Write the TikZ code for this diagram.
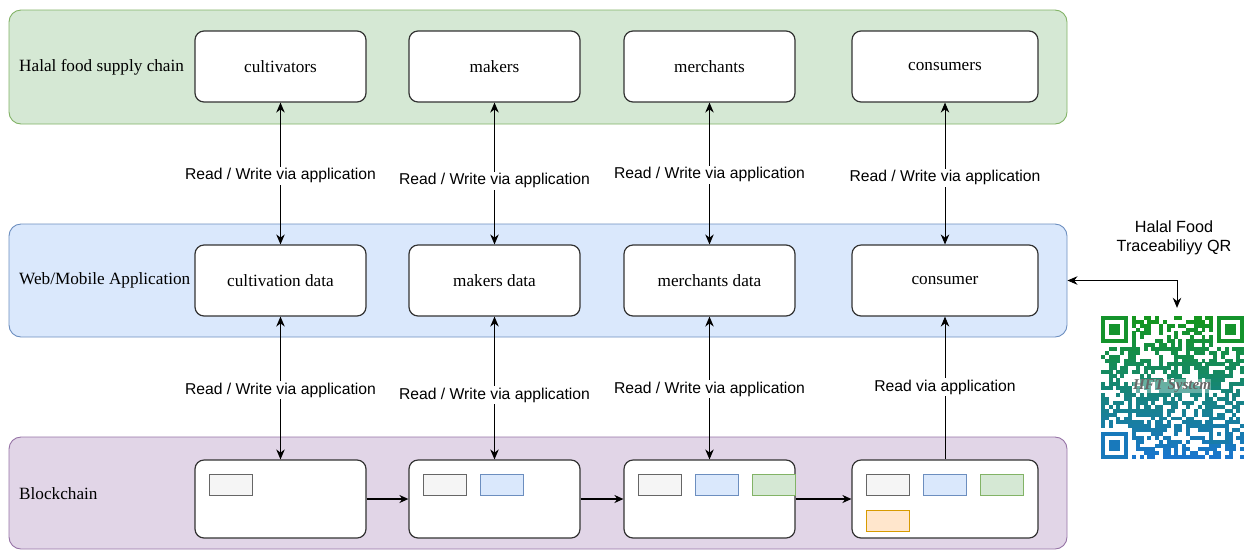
\documentclass[tikz,border=0pt]{standalone}
\usepackage{fontspec}
\setmainfont{Liberation Serif}
\newfontfamily\labelsans{Liberation Sans}
\usetikzlibrary{arrows.meta}
\definecolor{lgreenf}{HTML}{D5E8D4}\definecolor{lgreend}{HTML}{82B366}
\definecolor{lbluef}{HTML}{DAE8FC}\definecolor{lblued}{HTML}{6C8EBF}
\definecolor{lpurpf}{HTML}{E1D5E7}\definecolor{lpurpd}{HTML}{9673A6}
\definecolor{lgreyf}{HTML}{F5F5F5}\definecolor{lgreyd}{HTML}{666666}
\definecolor{lorangef}{HTML}{FFE6CC}\definecolor{loranged}{HTML}{D79B00}
\definecolor{qrgreen}{RGB}{20,150,30}
\definecolor{qrblue}{RGB}{25,118,205}
\tikzset{
  lane/.style={draw=#1d, fill=#1f, rounded corners=12pt, line width=0.9pt, minimum width=1058pt},
  lanetitle/.style={anchor=west, font=\fontsize{17.2}{20}\selectfont, inner sep=0pt},
  box/.style={draw=black!80, fill=white, rounded corners=9pt, line width=1.2pt, minimum height=71pt, font=\fontsize{17.2}{20}\selectfont},
  chainbox/.style={box, minimum height=78pt},
  rw/.style={font=\labelsans\fontsize{15.7}{18}\selectfont, fill=white, inner sep=1.5pt},
  varrow/.style={line width=0.9pt, {Stealth[length=10pt,width=8.5pt]}-{Stealth[length=10pt,width=8.5pt]}},
  uarrow/.style={line width=0.9pt, -{Stealth[length=10pt,width=8.5pt]}},
  carrow/.style={line width=1.6pt, -{Stealth[length=9pt,width=8pt]}},
  blk/.style={draw=#1d, fill=#1f, line width=1pt, minimum width=43pt, minimum height=21pt, inner sep=0pt},
}
\begin{document}
\begin{tikzpicture}[x=1pt,y=-1pt]
\useasboundingbox (0,0) rectangle (1244,550);
% lanes
\node[lane=lgreen, minimum height=114pt] (lane1) at (538,67) {};
\node[lane=lblue, minimum height=113pt] (lane2) at (538,280.5) {};
\node[lane=lpurp, minimum height=112pt] (lane3) at (538,493) {};
\node[lanetitle] (t1) at (19,67) {Halal food supply chain};
\node[lanetitle] (t2) at (19,280.5) {Web/Mobile Application};
\node[lanetitle] (t3) at (19,494) {Blockchain};
% top row
\node[box, minimum width=171pt] (c1) at (280.5,66.5) {cultivators};
\node[box, minimum width=171pt] (c2) at (494.5,66.5) {makers};
\node[box, minimum width=171pt] (c3) at (709.5,66.5) {merchants};
\node[box, minimum width=186pt] (c4) at (945,66.5) {consumers};
% middle row
\node[box, minimum width=171pt] (d1) at (280.5,280.5) {cultivation data};
\node[box, minimum width=171pt] (d2) at (494.5,280.5) {makers data};
\node[box, minimum width=171pt] (d3) at (709.5,280.5) {merchants data};
\node[box, minimum width=186pt] (d4) at (945,280.5) {consumer};
% bottom row
\node[chainbox, minimum width=171pt] (b1) at (280.5,499) {};
\node[chainbox, minimum width=171pt] (b2) at (494.5,499) {};
\node[chainbox, minimum width=171pt] (b3) at (709.5,499) {};
\node[chainbox, minimum width=186pt] (b4) at (945,499) {};
% blocks inside chain boxes
\node[blk=lgrey] (k11) at (230.5,484.5) {};
\node[blk=lgrey] (k21) at (444.5,484.5) {};
\node[blk=lblue] (k22) at (501.5,484.5) {};
\node[blk=lgrey] (k31) at (659.5,484.5) {};
\node[blk=lblue] (k32) at (716.5,484.5) {};
\node[blk=lgreen] (k33) at (773.5,484.5) {};
\node[blk=lgrey] (k41) at (888,484.5) {};
\node[blk=lblue] (k42) at (945,484.5) {};
\node[blk=lgreen] (k43) at (1002,484.5) {};
\node[blk=lorange] (k44) at (888,520.5) {};
% vertical connectors
\draw[varrow] (c1.south) -- (d1.north) node[rw, pos=0.517] {Read / Write via application};
\draw[varrow] (c2.south) -- (d2.north) node[rw, pos=0.552] {Read / Write via application};
\draw[varrow] (c3.south) -- (d3.north) node[rw, pos=0.51] {Read / Write via application};
\draw[varrow] (c4.south) -- (d4.north) node[rw, pos=0.531] {Read / Write via application};
\draw[varrow] (d1.south) -- (b1.north) node[rw, pos=0.514] {Read / Write via application};
\draw[varrow] (d2.south) -- (b2.north) node[rw, pos=0.549] {Read / Write via application};
\draw[varrow] (d3.south) -- (b3.north) node[rw, pos=0.507] {Read / Write via application};
\draw[uarrow] (b4.north) -- (d4.south) node[rw, pos=0.507] {Read via application};
% chain connectors
\draw[carrow] (b1.east) -- (b2.west);
\draw[carrow] (b2.east) -- (b3.west);
\draw[carrow] (b3.east) -- (b4.west);
% QR code (37 x 37 modules)
\def\qm{3.865}
\node[minimum width=143pt, minimum height=144pt, inner sep=0pt] (qr) at (1172.5,388) {};
\pgfmathsetseed{11}
\foreach \qj in {0,...,36}{
  \pgfmathtruncatemacro{\qrt}{\qj*100/36}
  \foreach \qi in {0,...,36}{
    \pgfmathtruncatemacro{\qb}{rnd<0.55?1:0}
    \ifnum\qb=1
      \fill[qrblue!\qrt!qrgreen] (1101+\qi*\qm,316+\qj*\qm) rectangle ++(3.98,3.98);
    \fi
  }
}
% finder patterns
\foreach \fx/\fy/\fc/\wx/\wy in {0/0/8/0/0, 30/0/8/29/0, 0/30/90/0/29}{
  \fill[white] (1101+\wx*\qm,316+\wy*\qm) rectangle ++(8*\qm,8*\qm);
  \fill[qrblue!\fc!qrgreen] (1101+\fx*\qm,316+\fy*\qm) rectangle ++(7*\qm,7*\qm);
  \fill[white] (1101+\fx*\qm+\qm,316+\fy*\qm+\qm) rectangle ++(5*\qm,5*\qm);
  \fill[qrblue!\fc!qrgreen] (1101+\fx*\qm+2*\qm,316+\fy*\qm+2*\qm) rectangle ++(3*\qm,3*\qm);
}
% alignment pattern
\fill[qrblue!80!qrgreen] (1101+28*\qm,316+28*\qm) rectangle ++(5*\qm,5*\qm);
\fill[white] (1101+29*\qm,316+29*\qm) rectangle ++(3*\qm,3*\qm);
\fill[qrblue!80!qrgreen] (1101+30*\qm,316+30*\qm) rectangle ++(\qm,\qm);
\node[font=\itshape\bfseries\fontsize{15}{16}\selectfont, text=black!60, fill=white, fill opacity=0.35, text opacity=1, inner sep=0.5pt] (qrtxt) at (1172,386) {HFT System};
% QR label and connector
\node[font=\labelsans\fontsize{16.2}{19}\selectfont, align=center] (qrlabel) at (1174,237.5) {Halal Food\\Traceabiliyy QR};
\draw[varrow] (lane2.east) -| ([xshift=4.5pt,yshift=8pt]qr.north);
\end{tikzpicture}
\end{document}
